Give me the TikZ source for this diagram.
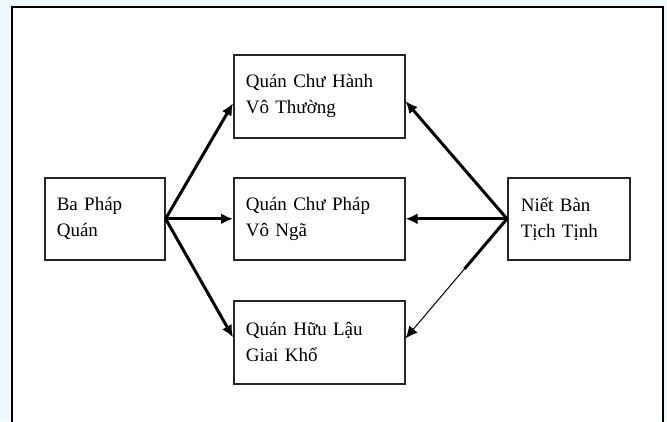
\documentclass[tikz,border=0pt]{standalone}
\usepackage{fontspec}
\setmainfont{Liberation Serif}
\usetikzlibrary{arrows.meta,calc}
\definecolor{bgblue}{RGB}{240,248,255}
\begin{document}
\begin{tikzpicture}[x=1pt,y=-1pt,
 box/.style={draw=black!85, line width=1.6pt, fill=white, rectangle, align=left, inner xsep=12pt, inner ysep=0pt, font=\fontsize{19}{26}\selectfont, anchor=north west},
 arr/.style={line width=3pt, -{Latex[length=12pt,width=11pt]}},
 thinarr/.style={line width=1pt, -{Latex[length=12pt,width=11pt]}},
]
\fill[bgblue] (0,0) rectangle (667,421);
\useasboundingbox (0,0) rectangle (667,421);
\draw[line width=2pt, fill=white] (12,7) rectangle (663,440);
\node[box, minimum width=171pt, text width=147pt, minimum height=83pt] (T) at (233,54) {Quán Chư Hành\\Vô Thường};
\node[box, minimum width=171pt, text width=147pt, minimum height=82pt] (M) at (233,177) {Quán Chư Pháp\\Vô Ngã};
\node[box, minimum width=171pt, text width=147pt, minimum height=83pt] (B) at (233,300) {Quán Hữu Lậu\\Giai Khổ};
\node[box, minimum width=120pt, text width=96pt, minimum height=82pt] (L) at (44,177) {Ba Pháp\\Quán};
\node[box, minimum width=122pt, text width=96pt, inner xsep=13pt, minimum height=82pt] (R) at (507,177) {Niết Bàn\\Tịch Tịnh};
\coordinate (Tl) at ($(T.west)+(0,7)$);
\coordinate (Bl) at ($(B.west)+(0,-5)$);
\coordinate (Tr) at ($(T.east)+(0,5)$);
\coordinate (Br) at ($(B.east)+(0,-4)$);
\draw[arr] (L.east) -- (Tl);
\draw[arr] (L.east) -- (M.west);
\draw[arr] (L.east) -- (Bl);
\draw[arr] (R.west) -- (Tr);
\draw[arr] (R.west) -- (M.east);
\coordinate (Bmid) at ($(R.west)!0.42!(Br)$);
\draw[line width=3pt] (R.west) -- (Bmid);
\draw[thinarr] (R.west) -- (Br);
\end{tikzpicture}
\end{document}
